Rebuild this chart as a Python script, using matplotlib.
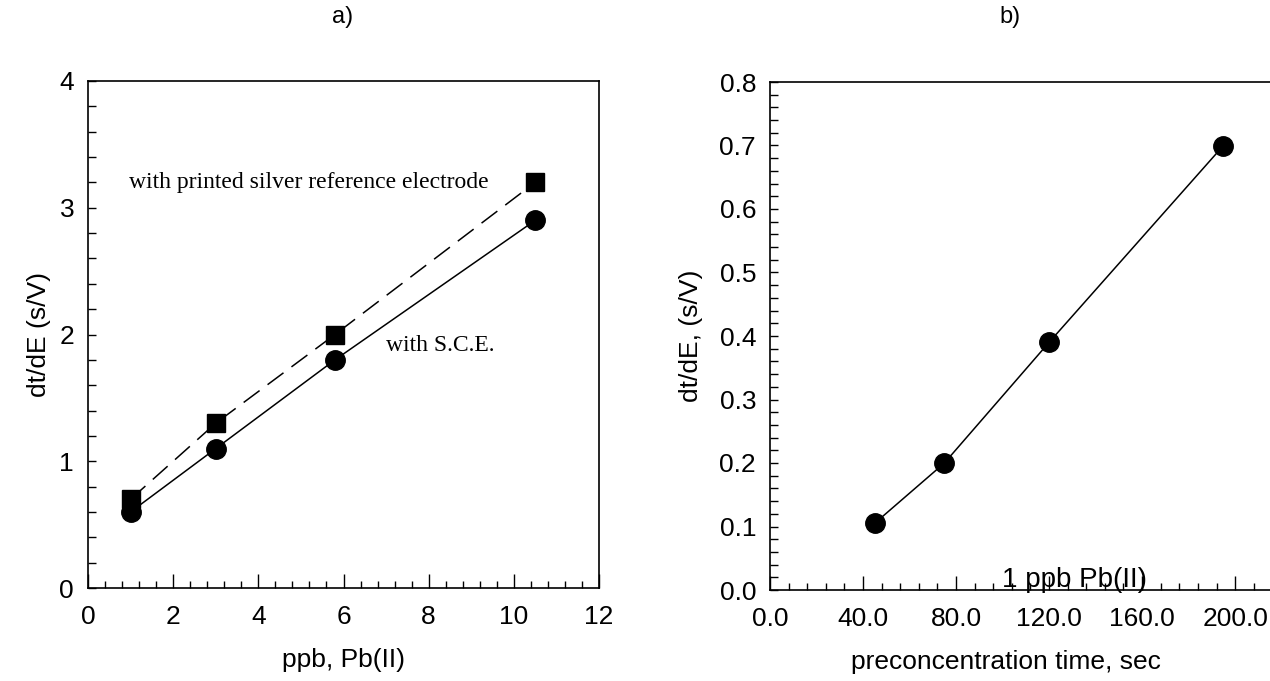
import numpy as np
import matplotlib
matplotlib.use("Agg")
from matplotlib import pyplot as plt
from matplotlib.ticker import MultipleLocator, FormatStrFormatter

# panel a) - response vs Pb(II) concentration
ppb = [1, 3, 5.8, 10.5]
silver_ref = [0.7, 1.3, 2.0, 3.2]
sce_ref = [0.6, 1.1, 1.8, 2.9]

# panel b) - response vs preconcentration time, 1 ppb Pb(II)
precon_time = [45, 75, 120, 195]
response_b = [0.105, 0.2, 0.39, 0.7]

plt.rcParams['font.family'] = ['Liberation Sans', 'DejaVu Sans']

fig = plt.figure(figsize=(12.7, 6.81), dpi=100)
axA = fig.add_axes([88/1270, 1-588/681, (599-88)/1270, (588-81)/681])
axB = fig.add_axes([770/1270, 1-590/681, (1270-770)/1270, (590-82)/681])


def style_axis(ax):
    for s in ax.spines.values():
        s.set_linewidth(1.2)
    ax.tick_params(axis='both', which='both', direction='in', top=False, right=False,
                   labelsize=19, width=1.0)
    ax.tick_params(axis='x', which='major', length=10, pad=12)
    ax.tick_params(axis='x', which='minor', length=5)
    ax.tick_params(axis='y', which='major', length=5.5, pad=10)
    ax.tick_params(axis='y', which='minor', length=5.5)


# a)
axA.plot(ppb, silver_ref, color='black', lw=1.1, linestyle=(0, (13, 6.5)),
         marker='s', markersize=12.5)
axA.plot(ppb, sce_ref, color='black', lw=1.1, marker='o', markersize=14)
axA.set_xlim(0, 12)
axA.set_ylim(0, 4)
axA.xaxis.set_major_locator(MultipleLocator(2))
axA.xaxis.set_minor_locator(MultipleLocator(0.4))
axA.yaxis.set_major_locator(MultipleLocator(1))
axA.yaxis.set_minor_locator(MultipleLocator(0.2))
style_axis(axA)
axA.set_xlabel('ppb, Pb(II)', fontsize=19, labelpad=14)
axA.set_ylabel('dt/dE (s/V)', fontsize=19, labelpad=6)
axA.text(0.97, 3.2, 'with printed silver reference electrode', family='Liberation Serif',
         fontsize=17, va='center', ha='left')
axA.text(7.0, 1.91, 'with S.C.E.', family='Liberation Serif', fontsize=17,
         va='center', ha='left')

# b)
axB.plot(precon_time, response_b, color='black', lw=1.1, marker='o', markersize=14)
axB.set_xlim(0, 215)
axB.set_ylim(0, 0.8)
axB.xaxis.set_major_locator(MultipleLocator(40))
axB.xaxis.set_minor_locator(MultipleLocator(8))
axB.yaxis.set_major_locator(MultipleLocator(0.1))
axB.yaxis.set_minor_locator(MultipleLocator(0.02))
axB.xaxis.set_major_formatter(FormatStrFormatter('%.1f'))
axB.yaxis.set_major_formatter(FormatStrFormatter('%.1f'))
style_axis(axB)
axB.spines['right'].set_visible(False)
axB.set_xlabel('preconcentration time, sec', fontsize=19, labelpad=14)
axB.xaxis.set_label_coords(0.472, -0.118)
axB.set_ylabel('dt/dE, (s/V)', fontsize=19, labelpad=12)
axB.text(131, 0.004, '1 ppb Pb(II)', fontsize=20, ha='center', va='baseline')

fig.text(343/1270, 1-17/681, 'a)', fontsize=17, ha='center', va='center')
fig.text(1010/1270, 1-17/681, 'b)', fontsize=17, ha='center', va='center')

fig.savefig('out.png', dpi=100)
